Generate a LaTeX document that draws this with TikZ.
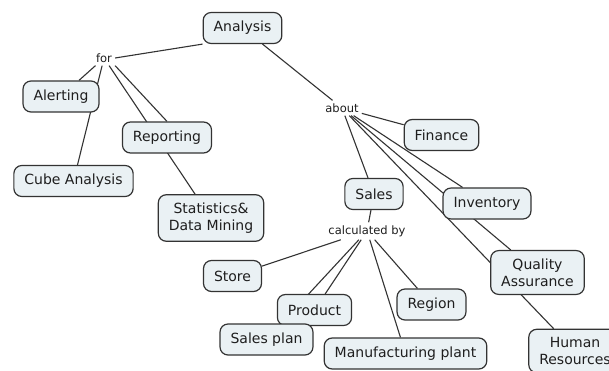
\documentclass[tikz,border=0pt]{standalone}
\usepackage{fontspec}
\setmainfont{DejaVu Sans}
\pgfdeclarelayer{bg}
\pgfsetlayers{bg,main}
\definecolor{boxfill}{HTML}{EAF1F4}
\definecolor{boxline}{HTML}{333333}
\definecolor{txt}{HTML}{1E1E1E}
\tikzset{
  cbox/.style={draw=boxline, fill=boxfill, line width=1.2pt, rounded corners=8pt,
    inner xsep=10.5pt, inner ysep=8pt, minimum height=31pt, align=center,
    text=txt, font=\fontsize{14}{17}\selectfont},
  lbl/.style={inner sep=3pt, text=txt, font=\fontsize{11.5}{13}\selectfont},
  link/.style={draw=boxline, line width=1.1pt}
}
\begin{document}
\begin{tikzpicture}[x=1pt,y=-1pt]
\useasboundingbox (0,0) rectangle (609,371);
\clip (0,0) rectangle (609,371);
% concepts
\node[cbox] (an) at (242.5,28) {Analysis};
\node[lbl] (for) at (104,58) {for};
\node[cbox] (al) at (61,96.5) {Alerting};
\node[cbox] (rep) at (167,137.5) {Reporting};
\node[cbox] (cube) at (73.5,181) {Cube Analysis};
\node[cbox] (st) at (211,218) {Statistics\&\\Data Mining};
\node[lbl] (about) at (342,108) {about};
\node[cbox] (fin) at (441.5,135) {Finance};
\node[cbox] (sales) at (374,194) {Sales};
\node[lbl] (calc) at (367,231) {calculated by};
\node[cbox] (inv) at (487,203.5) {Inventory};
\node[cbox] (store) at (232.5,276) {Store};
\node[cbox] (prod) at (314.5,310) {Product};
\node[cbox] (splan) at (266.5,339.5) {Sales plan};
\node[cbox] (reg) at (431.5,304.5) {Region};
\node[cbox] (manu) at (405.5,353.5) {Manufacturing plant};
\node[cbox] (qa) at (537.5,272.5) {Quality\\Assurance};
\node[cbox] (hr) at (575,351) {Human\\Resources};
% connectors
\begin{pgfonlayer}{bg}
\fill[white] (0,0) rectangle (609,371);
\draw[link] (an.south west) -- (for.east);
\draw[link] (an) -- (about);
\draw[link] (for) -- (al);
\draw[link] (for) -- (cube);
\draw[link] (for.south east) -- (rep.north);
\draw[link] (for) -- (st);
\draw[link] (about) -- (fin);
\draw[link] (about) -- (sales);
\draw[link] (about) -- (inv);
\draw[link] (about) -- (qa);
\draw[link] (about) -- (hr);
\draw[link] (sales) -- (calc);
\draw[link] (calc) -- (store);
\draw[link] (calc) -- (prod);
\draw[link] (calc) -- (splan);
\draw[link] (calc) -- (reg);
\draw[link] (calc) -- (manu);
\end{pgfonlayer}
\end{tikzpicture}
\end{document}
